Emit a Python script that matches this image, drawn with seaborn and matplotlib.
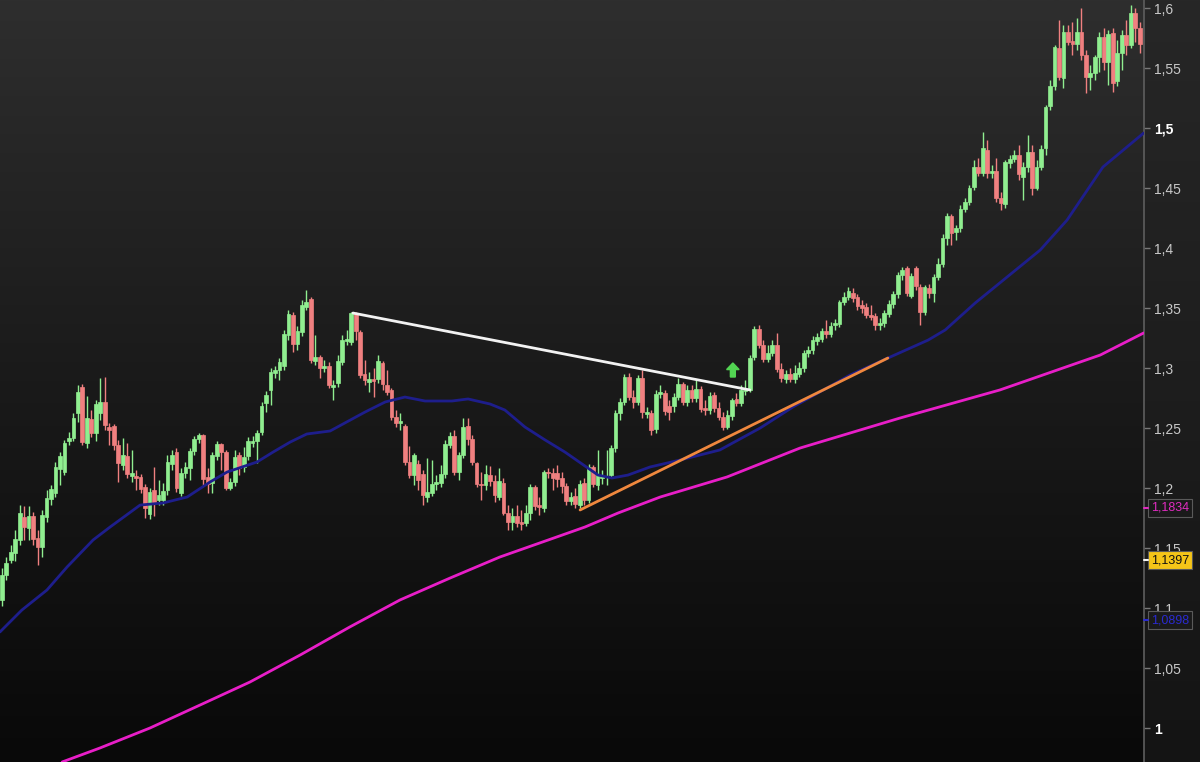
import numpy as np
import matplotlib
matplotlib.use("Agg")
import matplotlib.pyplot as plt
import seaborn as sns
from matplotlib.colors import LinearSegmentedColormap
from matplotlib.patches import FancyArrow

# ---------------- data ----------------
opens = [
 1.1067,1.1275,1.1400,1.1459,1.1567,1.1759,1.1667,1.1767,1.1584,1.1509,
 1.1759,1.1909,1.1959,1.2159,1.2134,1.2392,1.2417,1.2625,1.2842,1.2375,
 1.2575,1.2459,1.2625,1.2717,1.2509,1.2517,1.2359,1.2192,1.2267,1.2100,
 1.2100,1.2092,1.2009,1.1784,1.1984,1.1900,1.1900,1.1984,1.2200,1.2300,
 1.1959,1.2125,1.2167,1.2309,1.2409,1.2442,1.2092,1.2042,1.2267,1.2367,
 1.2300,1.2000,1.2050,1.2275,1.2175,1.2267,1.2375,1.2392,1.2467,1.2709,
 1.2817,1.2959,1.2984,1.3017,1.3275,1.3442,1.3200,1.3300,1.3509,1.3575,
 1.3059,1.3092,1.3000,1.3017,1.2842,1.2875,1.3050,1.3225,1.3217,1.3459,
 1.3300,1.2950,1.2884,1.2909,1.2909,1.3042,1.2859,1.2817,1.2592,1.2542,
 1.2517,1.2217,1.2109,1.2200,1.2117,1.1925,1.1959,1.2034,1.2042,1.2117,
 1.2359,1.2434,1.2134,1.2275,1.2517,1.2409,1.2209,1.2034,1.2025,1.2109,
 1.2059,1.1925,1.2042,1.1792,1.1717,1.1767,1.1717,1.1709,1.1792,1.2009,
 1.1859,1.1834,1.2134,1.2125,1.2125,1.2084,1.2017,1.1892,1.1934,1.1859,
 1.2042,1.1900,1.2175,1.2025,1.2084,1.2092,1.2109,1.2334,1.2625,1.2717,
 1.2925,1.2759,1.2717,1.2917,1.2617,1.2625,1.2492,1.2784,1.2792,1.2684,
 1.2684,1.2759,1.2867,1.2717,1.2817,1.2750,1.2825,1.2667,1.2650,1.2775,
 1.2667,1.2592,1.2509,1.2600,1.2742,1.2709,1.2809,1.2817,1.3092,1.3325,
 1.3192,1.3075,1.3125,1.3192,1.2992,1.2909,1.2950,1.2909,1.2950,1.3000,
 1.3125,1.3150,1.3225,1.3242,1.3309,1.3284,1.3359,1.3367,1.3550,1.3592,
 1.3625,1.3592,1.3525,1.3509,1.3442,1.3434,1.3359,1.3375,1.3450,1.3534,
 1.3617,1.3775,1.3834,1.3600,1.3834,1.3675,1.3467,1.3667,1.3625,1.3759,
 1.3867,1.4084,1.4267,1.4134,1.4167,1.4325,1.4384,1.4509,1.4675,1.4625,
 1.4817,1.4625,1.4642,1.4417,1.4367,1.4709,1.4742,1.4775,1.4592,1.4675,
 1.4800,1.4500,1.4675,1.4834,1.5184,1.5350,1.5667,1.5417,1.5800,1.5725,
 1.5700,1.5800,1.5609,1.5425,1.5459,1.5592,1.5759,1.5550,1.5792,1.5392,
 1.5625,1.5775,1.5692,1.5959,1.5834]
highs = [
 1.1334,1.1425,1.1525,1.1650,1.1859,1.1850,1.1850,1.1800,1.1650,1.1817,
 1.1984,1.2025,1.2217,1.2300,1.2400,1.2467,1.2625,1.2859,1.2867,1.2767,
 1.2650,1.2734,1.2917,1.2925,1.2542,1.2534,1.2400,1.2417,1.2375,1.2317,
 1.2150,1.2117,1.2034,1.2000,1.2175,1.2067,1.2042,1.2275,1.2317,1.2334,
 1.2167,1.2217,1.2334,1.2434,1.2459,1.2450,1.2167,1.2300,1.2392,1.2375,
 1.2317,1.2084,1.2317,1.2300,1.2342,1.2425,1.2434,1.2484,1.2717,1.2809,
 1.3000,1.3017,1.3084,1.3317,1.3484,1.3467,1.3350,1.3567,1.3650,1.3592,
 1.3275,1.3109,1.3067,1.3050,1.2900,1.3109,1.3275,1.3317,1.3467,1.3465,
 1.3317,1.3067,1.2967,1.3000,1.3109,1.3059,1.2984,1.2834,1.2650,1.2625,
 1.2534,1.2350,1.2292,1.2234,1.2150,1.2250,1.2234,1.2109,1.2192,1.2400,
 1.2467,1.2484,1.2300,1.2584,1.2584,1.2442,1.2217,1.2134,1.2192,1.2184,
 1.2109,1.2167,1.2084,1.1859,1.1834,1.1859,1.1817,1.1859,1.2034,1.2025,
 1.1925,1.2150,1.2167,1.2167,1.2192,1.2134,1.2042,1.1967,1.2000,1.2067,
 1.2084,1.2200,1.2192,1.2317,1.2150,1.2317,1.2359,1.2650,1.2750,1.2950,
 1.2959,1.2817,1.2942,1.2984,1.2675,1.2650,1.2817,1.2859,1.2817,1.2734,
 1.2792,1.2917,1.2884,1.2859,1.2859,1.2900,1.2850,1.2734,1.2800,1.2800,
 1.2717,1.2634,1.2650,1.2750,1.2792,1.2859,1.2900,1.3109,1.3350,1.3359,
 1.3234,1.3192,1.3234,1.3292,1.3042,1.2984,1.3000,1.3025,1.3050,1.3150,
 1.3184,1.3267,1.3292,1.3334,1.3400,1.3384,1.3409,1.3567,1.3634,1.3675,
 1.3667,1.3617,1.3567,1.3542,1.3525,1.3459,1.3417,1.3484,1.3567,1.3642,
 1.3800,1.3842,1.3850,1.3792,1.3850,1.3700,1.3692,1.3700,1.3784,1.3917,
 1.4117,1.4292,1.4284,1.4192,1.4359,1.4417,1.4525,1.4734,1.4750,1.4967,
 1.4900,1.4692,1.4750,1.4467,1.4734,1.4775,1.4817,1.4859,1.4717,1.4942,
 1.4859,1.4734,1.4859,1.5192,1.5400,1.5692,1.5900,1.5859,1.5859,1.5884,
 1.5917,1.6000,1.5650,1.5525,1.5609,1.5800,1.5834,1.5817,1.5834,1.5734,
 1.5817,1.5900,1.6025,1.6000,1.5884]
lows = [
 1.1017,1.1234,1.1375,1.1392,1.1525,1.1567,1.1567,1.1525,1.1359,1.1425,
 1.1717,1.1859,1.1925,1.2025,1.2109,1.2359,1.2392,1.2550,1.2359,1.2334,
 1.2425,1.2392,1.2567,1.2484,1.2359,1.2317,1.2050,1.2150,1.2084,1.2050,
 1.1984,1.1959,1.1750,1.1742,1.1767,1.1859,1.1859,1.1942,1.2150,1.1967,
 1.1934,1.2084,1.2067,1.2275,1.2375,1.2025,1.1959,1.1959,1.2234,1.2150,
 1.1984,1.1984,1.2017,1.2109,1.2134,1.2234,1.2342,1.2209,1.2442,1.2634,
 1.2692,1.2917,1.2900,1.2984,1.3234,1.3134,1.3150,1.3267,1.3484,1.3042,
 1.3025,1.2917,1.2967,1.2834,1.2734,1.2842,1.3025,1.3192,1.3192,1.3234,
 1.2917,1.2859,1.2800,1.2759,1.2875,1.2817,1.2775,1.2567,1.2509,1.2484,
 1.2192,1.2084,1.2025,1.1984,1.1859,1.1884,1.1934,1.1984,1.2009,1.2084,
 1.2334,1.2109,1.2067,1.2250,1.2359,1.2192,1.2009,1.1900,1.1984,1.2017,
 1.1884,1.1900,1.1775,1.1650,1.1650,1.1675,1.1650,1.1684,1.1734,1.1817,
 1.1775,1.1800,1.2084,1.1984,1.2009,1.1959,1.1859,1.1859,1.1834,1.1834,
 1.1859,1.1875,1.2009,1.1984,1.2034,1.2025,1.2084,1.2300,1.2567,1.2692,
 1.2734,1.2667,1.2692,1.2584,1.2584,1.2442,1.2459,1.2750,1.2609,1.2567,
 1.2634,1.2734,1.2692,1.2684,1.2717,1.2717,1.2634,1.2609,1.2617,1.2634,
 1.2567,1.2484,1.2492,1.2567,1.2684,1.2684,1.2775,1.2800,1.3067,1.3167,
 1.3050,1.3050,1.3100,1.2967,1.2884,1.2875,1.2884,1.2875,1.2925,1.2967,
 1.3092,1.3117,1.3192,1.3217,1.3250,1.3259,1.3317,1.3342,1.3525,1.3567,
 1.3550,1.3484,1.3459,1.3417,1.3400,1.3317,1.3317,1.3342,1.3425,1.3500,
 1.3584,1.3734,1.3600,1.3584,1.3650,1.3359,1.3442,1.3584,1.3550,1.3734,
 1.3842,1.4025,1.4025,1.4067,1.4134,1.4300,1.4359,1.4484,1.4600,1.4600,
 1.4584,1.4584,1.4384,1.4317,1.4334,1.4667,1.4717,1.4567,1.4400,1.4634,
 1.4442,1.4484,1.4650,1.4775,1.5150,1.5317,1.5400,1.5334,1.5692,1.5609,
 1.5650,1.5567,1.5292,1.5317,1.5400,1.5467,1.5484,1.5359,1.5300,1.5350,
 1.5484,1.5609,1.5667,1.5717,1.5625]
closes = [
 1.1275,1.1375,1.1467,1.1575,1.1792,1.1675,1.1767,1.1575,1.1509,1.1775,
 1.1917,1.1992,1.2175,1.2267,1.2375,1.2417,1.2584,1.2800,1.2384,1.2584,
 1.2459,1.2700,1.2717,1.2525,1.2484,1.2359,1.2209,1.2275,1.2117,1.2125,
 1.2084,1.1992,1.1834,1.1967,1.1875,1.1942,1.1975,1.2217,1.2275,1.2000,
 1.2125,1.2175,1.2309,1.2409,1.2442,1.2075,1.2034,1.2275,1.2367,1.2300,
 1.2000,1.2050,1.2259,1.2167,1.2259,1.2392,1.2392,1.2459,1.2684,1.2775,
 1.2967,1.2984,1.3050,1.3284,1.3450,1.3200,1.3309,1.3525,1.3550,1.3067,
 1.3092,1.3000,1.3017,1.2859,1.2859,1.3059,1.3234,1.3242,1.3459,1.3309,
 1.2942,1.2900,1.2909,1.2892,1.3059,1.2867,1.2800,1.2592,1.2542,1.2559,
 1.2217,1.2109,1.2275,1.2067,1.1942,1.1967,1.2034,1.2050,1.2117,1.2367,
 1.2434,1.2134,1.2275,1.2509,1.2409,1.2217,1.2034,1.2025,1.2117,1.2059,
 1.1942,1.2059,1.1792,1.1717,1.1767,1.1709,1.1700,1.1792,1.2009,1.1850,
 1.1842,1.2134,1.2125,1.2084,1.2075,1.2017,1.1892,1.1925,1.1867,1.2034,
 1.1900,1.2175,1.2034,1.2109,1.2092,1.2100,1.2334,1.2625,1.2717,1.2925,
 1.2759,1.2717,1.2917,1.2634,1.2634,1.2484,1.2784,1.2800,1.2642,1.2634,
 1.2759,1.2867,1.2717,1.2817,1.2750,1.2825,1.2659,1.2650,1.2767,1.2667,
 1.2592,1.2509,1.2609,1.2734,1.2709,1.2817,1.2825,1.3084,1.3325,1.3192,
 1.3075,1.3125,1.3192,1.2992,1.2917,1.2950,1.2909,1.2959,1.3000,1.3125,
 1.3150,1.3234,1.3259,1.3309,1.3284,1.3350,1.3375,1.3550,1.3592,1.3642,
 1.3584,1.3517,1.3500,1.3442,1.3425,1.3359,1.3375,1.3459,1.3534,1.3617,
 1.3775,1.3817,1.3625,1.3767,1.3684,1.3467,1.3675,1.3625,1.3759,1.3867,
 1.4084,1.4267,1.4125,1.4167,1.4325,1.4384,1.4500,1.4675,1.4625,1.4834,
 1.4625,1.4642,1.4417,1.4375,1.4717,1.4742,1.4775,1.4617,1.4675,1.4800,
 1.4500,1.4675,1.4825,1.5175,1.5350,1.5675,1.5425,1.5800,1.5717,1.5700,
 1.5800,1.5609,1.5425,1.5459,1.5592,1.5759,1.5550,1.5784,1.5375,1.5625,
 1.5775,1.5692,1.5959,1.5834,1.5700]

# moving averages at sample bars
ma_fast_bar = [-0.4, 4.5, 10.1, 14.6, 20.4, 24.2, 30.9, 36.0, 41.4, 46.5, 50.3, 57.0,
               60.6, 64.4, 68.1, 73.3, 76.6, 81.1, 85.6, 90.0, 94.5, 100.5, 104.1,
               109.0, 112.3, 116.8, 121.3, 125.7, 130.2, 133.1, 136.2, 139.8, 144.7,
               151.4, 160.3, 169.3, 176.6, 189.4, 197.8, 206.8, 210.6, 217.3, 231.8,
               237.8, 245.8, 254.9]
ma_fast_val = [1.0800, 1.0983, 1.1150, 1.1342, 1.1567, 1.1675, 1.1858, 1.1875, 1.1925,
               1.2050, 1.2133, 1.2217, 1.2300, 1.2383, 1.2450, 1.2475, 1.2542, 1.2633,
               1.2717, 1.2758, 1.2725, 1.2725, 1.2742, 1.2700, 1.2650, 1.2508, 1.2400,
               1.2300, 1.2183, 1.2108, 1.2083, 1.2108, 1.2175, 1.2233, 1.2317, 1.2500,
               1.2675, 1.2942, 1.3083, 1.3233, 1.3317, 1.3542, 1.3983, 1.4233, 1.4675,
               1.4958]
ma_slow_bar = [13.5, 21.9, 33.1, 44.3, 55.4, 66.6, 77.7, 88.9, 100.1, 111.2, 122.0,
               130.2, 137.6, 147.0, 161.9, 178.2, 200.5, 222.8, 245.2, 254.9]
ma_slow_val = [0.9717, 0.9833, 1.0000, 1.0192, 1.0383, 1.0608, 1.0842, 1.1067, 1.1250,
               1.1425, 1.1567, 1.1675, 1.1792, 1.1925, 1.2092, 1.2333, 1.2583, 1.2817,
               1.3108, 1.3292]

resistance_bar = [78.4, 167.0]
resistance_val = [1.3458, 1.2817]
support_bar = [129.1, 197.8]
support_val = [1.1817, 1.3083]
signal_bar = 163.2
signal_val = [1.2925, 1.3042]

ytick_vals = [1.0, 1.05, 1.1, 1.15, 1.2, 1.25, 1.3, 1.35, 1.4, 1.45, 1.5, 1.55, 1.6]
ytick_text = ["1", "1,05", "1,1", "1,15", "1,2", "1,25", "1,3", "1,35", "1,4", "1,45",
              "1,5", "1,55", "1,6"]
tag_vals = [1.1834, 1.1397, 1.0898]
tag_text = ["1,1834", "1,1397", "1,0898"]

# ---------------- style ----------------
sns.set_style("dark")
plt.rcParams["font.family"] = ["Liberation Sans", "DejaVu Sans"]

GREEN = "#90ee90"
RED = "#f08080"

W, H = 1200, 762
fig = plt.figure(figsize=(W / 100, H / 100), dpi=100)
fig.patch.set_facecolor("#1d1d1d")

# right price panel background
axp = fig.add_axes([1144 / W, 0, 1 - 1144 / W, 1])
axp.axis("off")
pan = LinearSegmentedColormap.from_list("pan", ["#141414", "#272727"])
axp.imshow(np.linspace(0, 1, 256).reshape(-1, 1)[::-1], cmap=pan, aspect="auto",
           extent=[0, 1, 0, 1])
axp.set_xlim(0, 1); axp.set_ylim(0, 1)

ax = fig.add_axes([0, 0, 1144 / W, 1])
bg = LinearSegmentedColormap.from_list("bg", ["#090909", "#1a1a1a", "#2e2e2e"])
ax.imshow(np.linspace(0, 1, 256).reshape(-1, 1)[::-1], cmap=bg, aspect="auto",
          extent=[0, 1, 0, 1], transform=ax.transAxes, zorder=-10)

idx = np.arange(len(closes))
o = np.array(opens); c = np.array(closes)
hi = np.array(highs); lo = np.array(lows)
up = c >= o
cols = np.where(up, GREEN, RED)

ax.vlines(idx, lo, hi, colors=cols, lw=1.0, zorder=3)
body_h = np.maximum(np.abs(c - o), 0.0012)
ax.bar(idx, body_h, bottom=np.minimum(o, c), width=0.84, color=cols,
       edgecolor=cols, linewidth=0.5, zorder=4)

# lines
sns.lineplot(x=ma_slow_bar, y=ma_slow_val, ax=ax, color="#e81ec8", lw=2.0,
             sort=False, zorder=5)
sns.lineplot(x=ma_fast_bar, y=ma_fast_val, ax=ax, color="#1e1e8c", lw=2.0,
             sort=False, zorder=5)
sns.lineplot(x=resistance_bar, y=resistance_val, ax=ax, color="#f2f2f2", lw=2.0,
             sort=False, zorder=6)
sns.lineplot(x=support_bar, y=support_val, ax=ax, color="#f0883e", lw=2.0,
             sort=False, zorder=6)

arrow = FancyArrow(signal_bar, signal_val[0], 0, signal_val[1] - signal_val[0],
                   width=1.1, head_width=2.8, head_length=0.0055,
                   length_includes_head=True, color="#52d452", zorder=7)
ax.add_patch(arrow)

ax.set_xlim(-0.38, 254.97)
ax.set_ylim(0.97167, 1.60667)
ax.set_xticks([])
ax.yaxis.tick_right()
ax.set_yticks(ytick_vals)
ax.set_yticklabels(ytick_text)
ax.tick_params(axis="y", direction="out", length=4, width=1, color="#777777",
               pad=3, labelsize=10, labelcolor="#c8c8c8")
for lab, txt in zip(ax.get_yticklabels(), ytick_text):
    if txt in ("1,5", "1"):
        lab.set_fontweight("bold")
        lab.set_color("#ffffff")
for s in ("top", "left", "bottom"):
    ax.spines[s].set_visible(False)
ax.spines["right"].set_color("#5e5e5e")
ax.spines["right"].set_linewidth(1.2)
ax.grid(False)

# price tags on the axis
tag_face = ["#1a1a1a", "#f5c518", "#1a1a1a"]
tag_fg = ["#e02cc0", "#111111", "#2a2ad0"]
tag_tick = ["#e02cc0", "#f5f5f5", "#2a2ad0"]
for v, t, fc, fg, tc in zip(tag_vals, tag_text, tag_face, tag_fg, tag_tick):
    ax.annotate(t, xy=(1.0, v), xycoords=("axes fraction", "data"),
                xytext=(5.0, 0), textcoords="offset points", ha="left", va="center",
                fontsize=9, color=fg, annotation_clip=False,
                bbox=dict(boxstyle="square,pad=0.25", fc=fc, ec="#5a5a5a", lw=0.8))
    ax.plot([1.0, 1.0035], [v, v], transform=ax.get_yaxis_transform(), color=tc,
            lw=1.5, clip_on=False, zorder=8)

fig.savefig("out.png", dpi=100, facecolor=fig.get_facecolor())
